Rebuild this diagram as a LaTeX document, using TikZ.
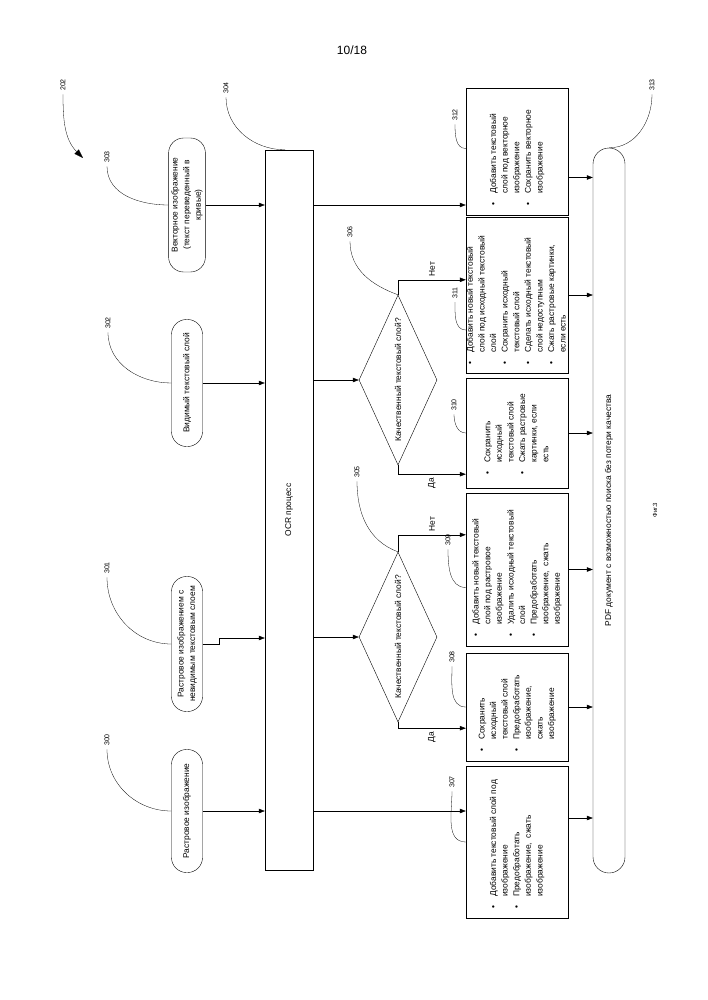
\documentclass[tikz,border=0pt]{standalone}
\usepackage{fontspec}
\setmainfont{Liberation Sans}
\usepackage{graphicx}
\usetikzlibrary{
  	positioning,
  	arrows.meta,
  	shapes,
  	calc
  }
\newcommand{\rot}[1]{\rotatebox{90}{#1}}
\newcommand{\blist}[1]{\rotatebox{90}{\begin{tabular}{@{}l@{\hspace{9pt}}l@{}}#1\end{tabular}}}

\begin{document}
\begin{tikzpicture}[x=1pt, y=-1pt, font=\fontsize{8.4}{11.6}\selectfont,
    arr/.style={-{Triangle[length=6pt, width=4.5pt]}, line width=.4pt},
    term/.style={draw, rounded corners=15pt, minimum width=31pt, inner sep=1pt, align=center},
    pbox/.style={draw, minimum width=102pt, inner sep=0pt},
    qdiam/.style={draw, shape=diamond, minimum width=78pt, minimum height=170pt, inner sep=0pt},
    ref/.style={font=\fontsize{7}{8}\selectfont},
    lead/.style={line width=.3pt}]
	\useasboundingbox (0,0) rectangle (707,1000);
	\node[font=\fontsize{12}{14}\selectfont] (page) at (352,50) {10/18};
%
	\node[term, minimum height=134pt] (t303) at (187,205) {\rot{\begin{tabular}{c}Векторное изображение\\(текст переведенный в\\кривые)\end{tabular}}};
	\node[term, minimum height=127pt] (t302) at (187,383) {\rot{Видимый текстовый слой}};
	\node[term, minimum height=135pt] (t301) at (187,644) {\rot{\begin{tabular}{c}Растровое изображением с\\невидимым текстовым слоем\end{tabular}}};
	\node[term, minimum height=123pt] (t300) at (187,811) {\rot{Растровое изображение}};
%
	\node[draw, minimum width=48pt, minimum height=720pt, inner sep=0pt] (ocr) at (289,510) {\rot{OCR процесс}};
%
	\node[qdiam, label={center:\rot{Качественный текстовый слой?}}] (d306) at (398,380) {};
	\node[qdiam, label={center:\rot{Качественный текстовый слой?}}] (d305) at (398,637) {};
%
	\node[pbox, minimum height=127pt] (b312) at (517,151.5) {};
	\node[pbox, minimum height=156pt] (b311) at (517,295) {};
	\node[pbox, minimum height=110pt] (b310) at (517,433) {};
	\node[pbox, minimum height=153pt] (b309) at (517,569.5) {};
	\node[pbox, minimum height=108pt] (b308) at (517,707) {};
	\node[pbox, minimum height=152pt] (b307) at (517,842) {};
	\node[anchor=south] (x312) at ($(b312.south)+(0,-6)$) {\blist{\textbullet & Добавить текстовый\\ & слой под векторное\\ & изображение\\ \textbullet & Сохранить векторное\\ & изображение}};
	\node[anchor=south] (x311) at ($(b311.south)+(0,-5)$) {\blist{\textbullet & Добавить новый текстовый\\ & слой под исходный текстовый\\ & слой\\ \textbullet & Сохранить исходный\\ & текстовый слой\\ \textbullet & Сделать исходный текстовый\\ & слой недоступным\\ \textbullet & Сжать растровые картинки,\\ & если есть}};
	\node[anchor=south] (x310) at ($(b310.south)+(0,-10)$) {\blist{\textbullet & Сохранить\\ & исходный\\ & текстовый слой\\ \textbullet & Сжать растровые\\ & картинки, если\\ & есть}};
	\node[anchor=south] (x309) at ($(b309.south)+(0,-6)$) {\blist{\textbullet & Добавить новый текстовый\\ & слой под растровое\\ & изображение\\ \textbullet & Удалить исходный текстовый\\ & слой\\ \textbullet & Предобработать\\ & изображение,\ \ сжать\\ & изображение}};
	\node[anchor=south] (x308) at ($(b308.south)+(0,-6)$) {\blist{\textbullet & Сохранить\\ & исходный\\ & текстовый слой\\ \textbullet & Предобработать\\ & изображение,\\ & сжать\\ & изображение}};
	\node[anchor=south] (x307) at ($(b307.south)+(0,-6)$) {\blist{\textbullet & Добавить текстовый слой под\\ & изображение\\ \textbullet & Предобработать\\ & изображение,\ \ сжать\\ & изображение}};
%
	\node[draw, rounded corners=16pt, minimum width=32pt, minimum height=725pt, inner sep=0pt] (pdf) at (609,510.5) {\rot{PDF документ с возможностью поиска без потери качества}};
	\node[font=\fontsize{6}{7}\selectfont] (fig) at (655,510) {\rot{Фиг.3}};
%
	\draw[arr] (t303.east) -- (t303 -| ocr.west);
	\draw[arr] (t302.east) -- (t302 -| ocr.west);
	\draw[arr] (t301.east) -- ++(16,0) |- ([yshift=6pt]t301.east -| ocr.west);
	\draw[arr] (t300.east) -- (t300 -| ocr.west);
	\draw[arr] (t303 -| ocr.east) -- (t303 -| b312.west);
	\draw[arr] (d306.west -| ocr.east) -- (d306.west);
	\draw[arr] (d305.west -| ocr.east) -- (d305.west);
	\draw[arr] (t300 -| ocr.east) -- (t300 -| b307.west);
%
	\draw[arr] (d306.north) |- node[above, pos=.75] (n306) {\rot{Нет}} ($(b311.north west)+(0,63)$);
	\draw[arr] (d306.south) |- node[below, pos=.75] (y306) {\rot{Да}} ($(b310.south west)+(0,-14)$);
	\draw[arr] (d305.north) |- node[above, pos=.75] (n305) {\rot{Нет}} ($(b309.north west)+(0,42)$);
	\draw[arr] (d305.south) |- node[below, pos=.75] (y305) {\rot{Да}} ($(b308.south west)+(0,-33)$);
%
	\draw[arr] ([yshift=-26pt]b312.east) -- ([yshift=-26pt]b312.east -| pdf.west);
	\draw[arr] (b311.east) -- (b311.east -| pdf.west);
	\draw[arr] (b310.east) -- (b310.east -| pdf.west);
	\draw[arr] (b309.east) -- (b309.east -| pdf.west);
	\draw[arr] (b308.east) -- (b308.east -| pdf.west);
	\draw[arr] ([yshift=24pt]b307.east) -- ([yshift=24pt]b307.east -| pdf.west);
%
	\node[ref] (l202) at (63,85) {\rot{202}};
	\node[ref] (l303) at (107,157) {\rot{303}};
	\node[ref] (l302) at (108,323) {\rot{302}};
	\node[ref] (l301) at (107,568) {\rot{301}};
	\node[ref] (l300) at (107,740) {\rot{300}};
	\node[ref] (l304) at (226,88) {\rot{304}};
	\node[ref] (l306) at (350,232) {\rot{306}};
	\node[ref] (l305) at (357,472) {\rot{305}};
	\node[ref] (l312) at (455,115) {\rot{312}};
	\node[ref] (l311) at (455,293) {\rot{311}};
	\node[ref] (l310) at (454,405) {\rot{310}};
	\node[ref] (l309) at (448,540) {\rot{309}};
	\node[ref] (l308) at (452,657) {\rot{308}};
	\node[ref] (l307) at (452,782) {\rot{307}};
	\node[ref] (l313) at (652,85) {\rot{313}};
%
	\draw[-{Triangle[length=9pt, width=6pt]}, lead] (l202.south) to[out=-90, in=135] (83,158);
	\draw[lead] (l303.south) to[out=-90, in=180] (t303.west);
	\draw[lead] (l302.south) to[out=-90, in=180] (t302.west);
	\draw[lead] (l301.south) to[out=-90, in=180] (t301.west);
	\draw[lead] (l300.south) to[out=-90, in=180] (t300.west);
	\draw[lead] (l304.south) to[out=-90, in=180] ($(ocr.north)+(-4,0)$);
	\draw[lead] (l306.south) to[out=-90, in=160] (d306.north);
	\draw[lead] (l305.south) to[out=-90, in=160] (d305.north);
	\draw[lead] (l312.south) to[out=-90, in=180] ([yshift=3pt]b312.west);
	\draw[lead] (l311.south) to[out=-90, in=180] ([yshift=-35pt]b311.west);
	\draw[lead] (l310.south) to[out=-90, in=180] (b310.west);
	\draw[lead] (l309.south) to[out=-90, in=180] ([yshift=-18pt]b309.west);
	\draw[lead] (l308.south) to[out=-90, in=180] (b308.west);
	\draw[lead] (l307.south) to[out=-90, in=180] (b307.west);
	\draw[lead] (l313.south) to[out=-90, in=0] (pdf.north);
\end{tikzpicture}
\end{document}
